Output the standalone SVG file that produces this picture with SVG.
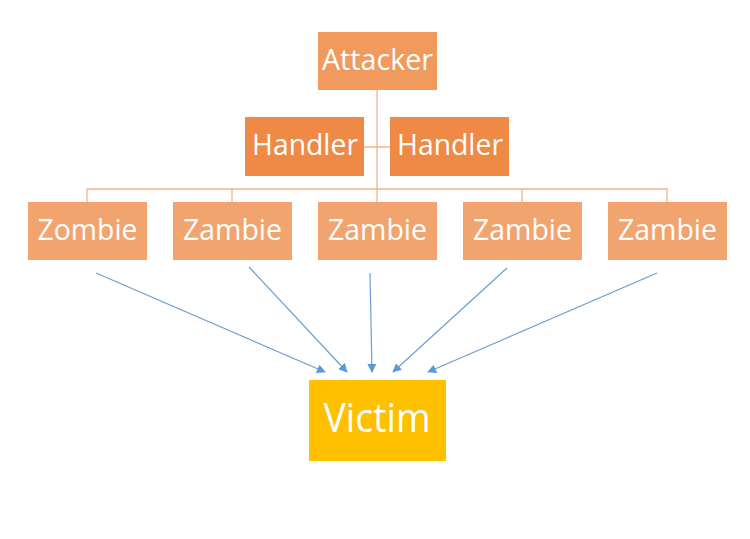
<svg xmlns="http://www.w3.org/2000/svg" width="750" height="539" viewBox="0 0 750 539">
<defs>
<style>
.t{font-family:"Open Sans","Liberation Sans",sans-serif;fill:#fff;text-anchor:middle}
.att{fill:#F09A5E}
.han{fill:#EE8A46}
.zom{fill:#F2A46E}
.vic{fill:#FFC000}
.org{stroke:#F4B48A;stroke-width:1.3;fill:none}
.arr{stroke:#6A9FD2;stroke-width:1.2;fill:none;marker-end:url(#ah)}
</style>
<marker id="ah" viewBox="0 0 10 10" refX="9" refY="5" markerWidth="9" markerHeight="9" markerUnits="userSpaceOnUse" orient="auto">
<path d="M0,0 L10,5 L0,10 z" fill="#5B9BD5"/>
</marker>
</defs>
<rect width="750" height="539" fill="#fff"/>
<g id="connectors">
<path class="org" d="M377,90 V202 M364,147 H390 M87,202 V189 H667 V202 M232,189 V202 M522,189 V202"/>
<line class="arr" x1="96" y1="273" x2="325" y2="372"/>
<line class="arr" x1="249" y1="267" x2="347" y2="372"/>
<line class="arr" x1="370" y1="273" x2="372" y2="372"/>
<line class="arr" x1="507" y1="268" x2="393" y2="372"/>
<line class="arr" x1="657" y1="273" x2="428" y2="372"/>
</g>
<g id="attacker"><rect class="att" x="318" y="32" width="119" height="58"/><text class="t" x="377.5" y="70" font-size="29" textLength="111" lengthAdjust="spacingAndGlyphs">Attacker</text></g>
<g id="handler1"><rect class="han" x="245" y="117" width="119" height="59"/><text class="t" x="305" y="155" font-size="30" textLength="106" lengthAdjust="spacingAndGlyphs">Handler</text></g>
<g id="handler2"><rect class="han" x="390" y="117" width="119" height="59"/><text class="t" x="450" y="155" font-size="30" textLength="106" lengthAdjust="spacingAndGlyphs">Handler</text></g>
<g id="zombie1"><rect class="zom" x="28" y="202" width="119" height="58"/><text class="t" x="87.5" y="240" font-size="30" textLength="100" lengthAdjust="spacingAndGlyphs">Zombie</text></g>
<g id="zambie2"><rect class="zom" x="173" y="202" width="119" height="58"/><text class="t" x="232.5" y="240" font-size="30" textLength="99" lengthAdjust="spacingAndGlyphs">Zambie</text></g>
<g id="zambie3"><rect class="zom" x="318" y="202" width="119" height="58"/><text class="t" x="377.5" y="240" font-size="30" textLength="99" lengthAdjust="spacingAndGlyphs">Zambie</text></g>
<g id="zambie4"><rect class="zom" x="463" y="202" width="119" height="58"/><text class="t" x="522.5" y="240" font-size="30" textLength="99" lengthAdjust="spacingAndGlyphs">Zambie</text></g>
<g id="zambie5"><rect class="zom" x="608" y="202" width="119" height="58"/><text class="t" x="667.5" y="240" font-size="30" textLength="99" lengthAdjust="spacingAndGlyphs">Zambie</text></g>
<g id="victim"><rect class="vic" x="309" y="380" width="137" height="81"/><text class="t" x="377" y="432" font-size="41" textLength="107" lengthAdjust="spacingAndGlyphs">Victim</text></g>
</svg>
